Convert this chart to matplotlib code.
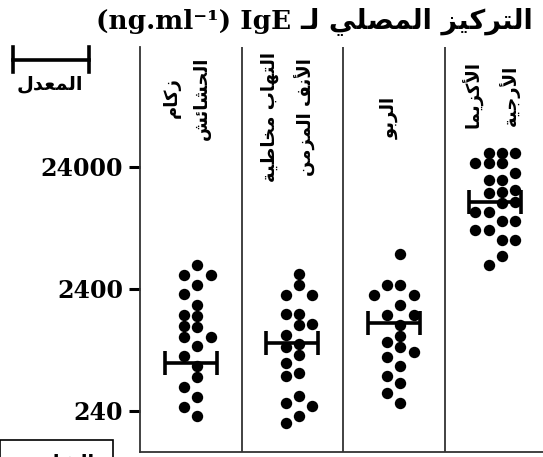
import numpy as np
import matplotlib
matplotlib.use('Agg')
import matplotlib.pyplot as plt
from matplotlib.lines import Line2D
from matplotlib.patches import Rectangle
from matplotlib.ticker import NullLocator

# ---------------- data ----------------
groups = ['زكام\nالحشائش', 'التهاب مخاطية\nالأنف المزمن', 'الربو', 'الأكزيما\nالأرجية']
hay_fever = [3775, 3127, 3127, 2590, 2184, 1774, 1469, 1442, 1193, 1172,
             970, 970, 818, 678, 561, 456, 377, 313, 259, 218]
rhinitis = [3185, 2590, 2143, 2143, 1497, 1497, 1240, 1216, 1008, 850,
            803, 691, 594, 492, 465, 318, 279, 264, 218, 191]
asthma = [4646, 2590, 2590, 2143, 2143, 1774, 1469, 1469, 1216, 989,
          883, 803, 731, 665, 561, 465, 407, 337, 279]
eczema = [31250, 31250, 31250, 25890, 25890, 25890, 21430, 18770, 18770, 15550,
          15000, 14690, 12400, 12170, 10270, 10270, 8665, 8665, 7310, 7310,
          6050, 6050, 4470, 3775]
means = [594, 871, 1270, 12460]
yticks = [240, 2400, 24000]
ytick_labels = ['240', '2400', '24000']
title_latin = '(ng.ml\u207b\u00b9) IgE'
title_arabic = 'التركيز المصلي لـ'
legend_label = 'المعدل'
control_label = 'الشاهد'

# ---------------- Arabic shaping (matplotlib has no complex text layout) ----------------
FORMS = {
    '\u0627': ('\uFE8D', '\uFE8E', None, None),
    '\u0623': ('\uFE83', '\uFE84', None, None),
    '\u0628': ('\uFE8F', '\uFE90', '\uFE91', '\uFE92'),
    '\u0629': ('\uFE93', '\uFE94', None, None),
    '\u062A': ('\uFE95', '\uFE96', '\uFE97', '\uFE98'),
    '\u062C': ('\uFE9D', '\uFE9E', '\uFE9F', '\uFEA0'),
    '\u062D': ('\uFEA1', '\uFEA2', '\uFEA3', '\uFEA4'),
    '\u062E': ('\uFEA5', '\uFEA6', '\uFEA7', '\uFEA8'),
    '\u062F': ('\uFEA9', '\uFEAA', None, None),
    '\u0631': ('\uFEAD', '\uFEAE', None, None),
    '\u0632': ('\uFEAF', '\uFEB0', None, None),
    '\u0634': ('\uFEB5', '\uFEB6', '\uFEB7', '\uFEB8'),
    '\u0635': ('\uFEB9', '\uFEBA', '\uFEBB', '\uFEBC'),
    '\u0637': ('\uFEC1', '\uFEC2', '\uFEC3', '\uFEC4'),
    '\u0639': ('\uFEC9', '\uFECA', '\uFECB', '\uFECC'),
    '\u0641': ('\uFED1', '\uFED2', '\uFED3', '\uFED4'),
    '\u0643': ('\uFED9', '\uFEDA', '\uFEDB', '\uFEDC'),
    '\u0644': ('\uFEDD', '\uFEDE', '\uFEDF', '\uFEE0'),
    '\u0645': ('\uFEE1', '\uFEE2', '\uFEE3', '\uFEE4'),
    '\u0646': ('\uFEE5', '\uFEE6', '\uFEE7', '\uFEE8'),
    '\u0647': ('\uFEE9', '\uFEEA', '\uFEEB', '\uFEEC'),
    '\u0648': ('\uFEED', '\uFEEE', None, None),
    '\u064A': ('\uFEF1', '\uFEF2', '\uFEF3', '\uFEF4'),
    '\u0626': ('\uFE89', '\uFE8A', '\uFE8B', '\uFE8C'),
    '\u0640': ('\u0640', '\u0640', '\u0640', '\u0640'),
    'LA': ('\uFEFB', '\uFEFC', None, None),
    'LAH': ('\uFEF7', '\uFEF8', None, None),
}


def shape_line(s):
    toks = []
    i = 0
    while i < len(s):
        c = s[i]
        if c == '\u0644' and i + 1 < len(s) and s[i + 1] in ('\u0627', '\u0623'):
            toks.append('LA' if s[i + 1] == '\u0627' else 'LAH')
            i += 2
            continue
        toks.append(c)
        i += 1
    out = []
    for k, t in enumerate(toks):
        if t not in FORMS:
            out.append(t)
            continue
        prev = toks[k - 1] if k > 0 else None
        nxt = toks[k + 1] if k + 1 < len(toks) else None
        jp = prev in FORMS and FORMS[prev][2] is not None
        jn = FORMS[t][2] is not None and nxt in FORMS
        f = FORMS[t]
        if jp and jn:
            out.append(f[3])
        elif jp:
            out.append(f[1])
        elif jn:
            out.append(f[2])
        else:
            out.append(f[0])
    return ''.join(reversed(out))


def shape(s):
    return '\n'.join(shape_line(l) for l in s.split('\n'))


AR = ['DejaVu Sans']
SERIF = ['DejaVu Serif', 'DejaVu Sans']

# ---------------- figure ----------------
W, H = 543, 457
fig = plt.figure(figsize=(W / 100, H / 100), dpi=100)
ax = fig.add_axes([140 / W, 5 / H, 403 / W, 405 / H])
ax.set_yscale('log')
ax.set_ylim(110.7, 231000)
ax.set_xlim(-0.5, 3.47)

for sp in ['top', 'right']:
    ax.spines[sp].set_visible(False)
for sp in ['left', 'bottom']:
    ax.spines[sp].set_linewidth(1.3)
    ax.spines[sp].set_color('#333333')
for i in range(len(groups) - 1):
    ax.axvline(i + 0.5, color='#333333', lw=1.3)

ax.set_xticks([])
ax.set_yticks(yticks)
ax.set_yticklabels(ytick_labels)
ax.yaxis.set_minor_locator(NullLocator())
ax.tick_params(axis='y', which='major', direction='out', length=8, width=2.2,
               pad=4, color='black')
for lab in ax.get_yticklabels():
    lab.set_fontfamily(SERIF)
    lab.set_fontweight('bold')
    lab.set_fontsize(17)

# beeswarm placement in pixel space
px_per_unit = ax.transData.transform((1, 1))[0] - ax.transData.transform((0, 1))[0]
lane_px = 13.3
near_lanes = [0.5, -0.5, 1.5, -1.5]
far_lanes = [2.5, -2.5, 3.5, -3.5]
series = [hay_fever, rhinitis, asthma, eczema]


def pick_lane(ypx, placed):
    for gap, cands in ((10.5, near_lanes), (8.5, near_lanes), (8.5, far_lanes), (0.0, far_lanes)):
        for l in cands:
            if all(abs(ypx - q) >= gap for q in placed[l]):
                return l
    return near_lanes[0]


for gi, vals in enumerate(series):
    vals_sorted = sorted(vals, reverse=True)
    placed = {l: [] for l in near_lanes + far_lanes}
    xs = []
    for v in vals_sorted:
        ypx = ax.transData.transform((0, v))[1]
        l = pick_lane(ypx, placed)
        placed[l].append(ypx)
        xs.append(gi + l * lane_px / px_per_unit)
    ax.plot(xs, vals_sorted, 'o', ms=8.2, color='black', mec='black', mew=0,
            clip_on=False, zorder=3)

# mean bars
ax.errorbar(range(len(means)), means, xerr=0.255, fmt='none', ecolor='black',
            elinewidth=2.6, capsize=8.6, capthick=2.6, zorder=4)

# group labels (rotated)
label_y_px = [98, 117, 118, 95]
for gi, g in enumerate(groups):
    xf = (ax.transData.transform((gi, 1))[0] - 4) / W
    ax.text(xf, 1 - label_y_px[gi] / H, shape(g), transform=fig.transFigure,
            rotation=90, ha='center', va='center', multialignment='center',
            fontfamily=AR, fontweight='bold', fontsize=13, linespacing=1.9)

# title
fig.text(291 / W, 1 - 22 / H, title_latin, ha='right', va='center',
         fontfamily=SERIF, fontweight='bold', fontsize=19)
fig.text(300 / W, 1 - 21 / H, shape(title_arabic), ha='left', va='center',
         fontfamily=AR, fontweight='bold', fontsize=19.5)

# legend (mean symbol)
ly = 1 - 60 / H
fig.add_artist(Line2D([13 / W, 89 / W], [ly, ly], color='black', lw=2.6))
for xx in (13 / W, 89 / W):
    fig.add_artist(Line2D([xx, xx], [1 - 47 / H, 1 - 72 / H], color='black', lw=2.6))
fig.text(50 / W, 1 - 84 / H, shape(legend_label), ha='center', va='center',
         fontfamily=AR, fontweight='bold', fontsize=14)

# bottom-left box (cut off at the figure edge, as in the reference)
fig.add_artist(Rectangle((0, -0.05), 113 / W, 0.05 + 17 / H, transform=fig.transFigure,
                         fill=False, edgecolor='black', lw=1.2))
fig.text(62 / W, 1 - 452 / H, shape(control_label), ha='center', va='top',
         fontfamily=AR, fontweight='bold', fontsize=14)

fig.savefig('out.png', dpi=100)
